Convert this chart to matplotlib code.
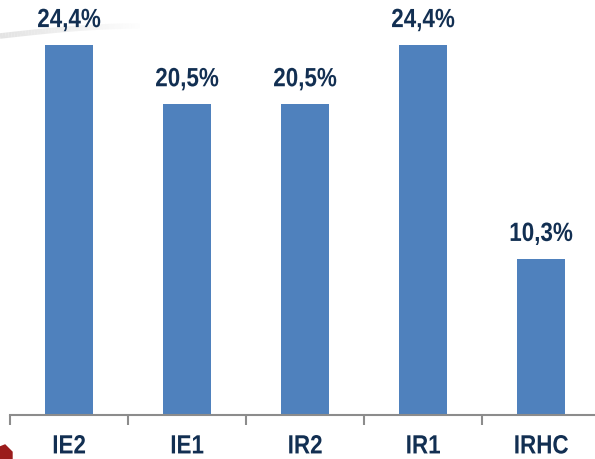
import matplotlib
matplotlib.use("Agg")
import matplotlib.pyplot as plt
from matplotlib import font_manager
from matplotlib.patheffects import AbstractPathEffect
from matplotlib.transforms import Affine2D
import numpy as np

categories = ["IE2", "IE1", "IR2", "IR1", "IRHC"]
values = [24.4, 20.5, 20.5, 24.4, 10.3]
labels = ["24,4%", "20,5%", "20,5%", "24,4%", "10,3%"]

names = {f.name for f in font_manager.fontManager.ttflist}
fam = ["Liberation Sans Narrow"] if "Liberation Sans Narrow" in names else ["Liberation Sans"]
fam = fam + ["DejaVu Sans"]
SX = 1.0 if "Liberation Sans Narrow" in names else 0.85


class Condense(AbstractPathEffect):
    """Horizontally condense a text path about its centre."""
    def __init__(self, sx):
        super().__init__()
        self.sx = sx

    def draw_path(self, renderer, gc, tpath, affine, rgbFace=None):
        ext = tpath.get_extents()
        cx = (ext.x0 + ext.x1) / 2
        pre = Affine2D().translate(-cx, 0).scale(self.sx, 1).translate(cx, 0)
        renderer.draw_path(gc, tpath, pre + affine, rgbFace)


TXT = "#122f52"
W, H = 595, 459
fig = plt.figure(figsize=(W/100, H/100), dpi=100)
fig.patch.set_facecolor("white")

# decorative background (slide swoosh + corner)
bg = fig.add_axes([0, 0, 1, 1], zorder=-1)
bg.set_xlim(0, W); bg.set_ylim(H, 0); bg.axis("off")
sx_ = np.linspace(0, 140, 50)
sy_ = 36 - 10 * np.sin(sx_ / 140 * np.pi / 2)
for i in range(len(sx_) - 1):
    a = 0.8 * (1 - i / len(sx_))
    bg.plot(sx_[i:i+2], sy_[i:i+2], color="#dcdcdc", lw=4, alpha=a, solid_capstyle="butt")
bg.fill([0, 0, 5, 12, 12], [459, 447, 445, 452, 459], color="#9b1c1c")

left = 10/W
width = 590/W
bottom = (H-415)/H
height = 415/H
ax = fig.add_axes([left, bottom, width, height])
ax.set_facecolor("none")
x = np.arange(len(categories))
ax.bar(x, values, width=0.41, color="#4f81bd", zorder=2)
ax.set_xlim(-0.5, len(categories)-0.5)
ax.set_ylim(0, 24.4*415/370)
for xi, v, lab in zip(x, values, labels):
    ax.text(xi, v + 0.85, lab, ha="center", va="bottom", fontsize=19, fontweight="bold",
            color=TXT, family=fam, path_effects=[Condense(SX)])
for s in ["top", "right", "left"]:
    ax.spines[s].set_visible(False)
ax.spines["bottom"].set_color("#8c8c8c")
ax.spines["bottom"].set_linewidth(1.5)
ax.set_yticks([])
ax.set_xticks(np.arange(-0.5, len(categories)), minor=False)
ax.set_xticklabels([])
ax.tick_params(axis="x", length=7, width=1.5, color="#8c8c8c", direction="out")
ax.set_xticks(x, minor=True)
ax.set_xticklabels(categories, minor=True)
ax.tick_params(axis="x", which="minor", length=0, pad=14)
for t in ax.get_xticklabels(minor=True):
    t.set_fontsize(19); t.set_fontweight("bold"); t.set_color(TXT); t.set_family(fam)
    t.set_path_effects([Condense(SX)])

fig.savefig("out.png", dpi=100)
